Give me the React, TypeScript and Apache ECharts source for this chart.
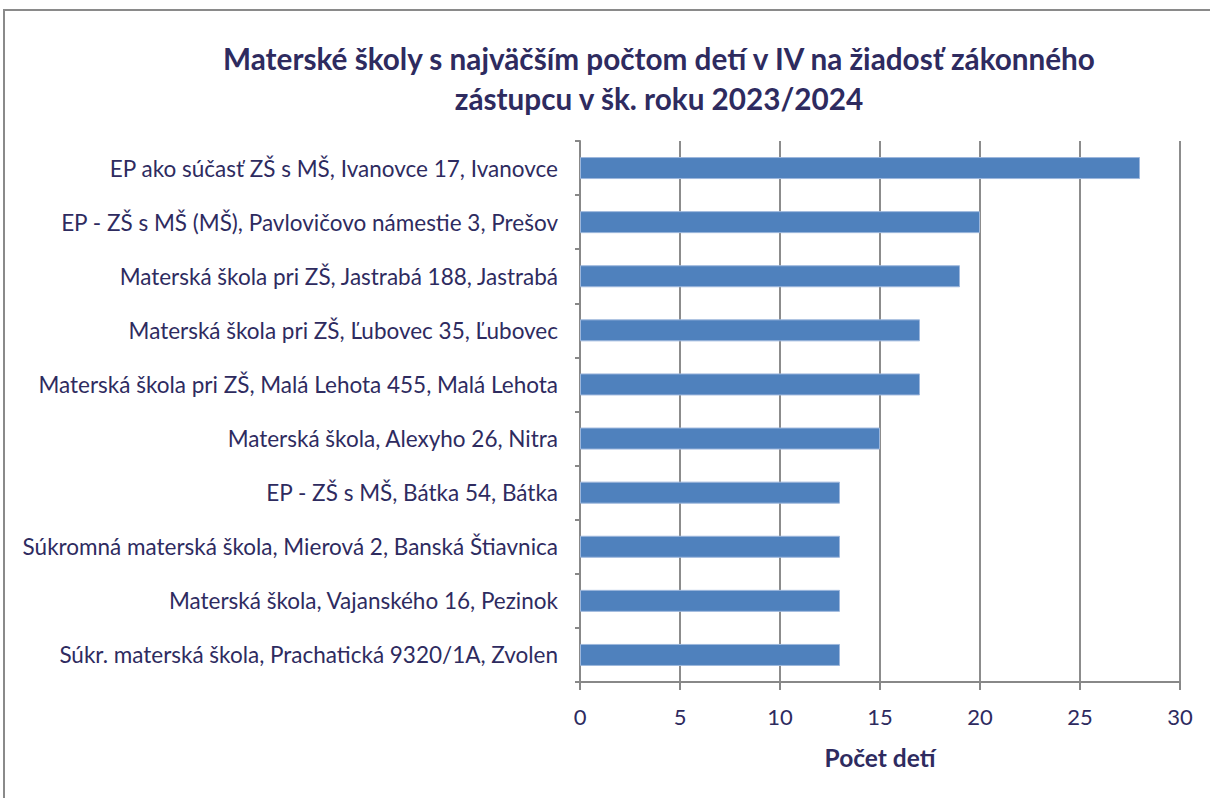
import React, { useEffect, useRef } from "react";
import * as echarts from "echarts";

const categories = [
  "EP ako súčasť ZŠ s MŠ, Ivanovce 17, Ivanovce",
  "EP - ZŠ s MŠ (MŠ), Pavlovičovo námestie 3, Prešov",
  "Materská škola pri ZŠ, Jastrabá 188, Jastrabá",
  "Materská škola pri ZŠ, Ľubovec 35, Ľubovec",
  "Materská škola pri ZŠ, Malá Lehota 455, Malá Lehota",
  "Materská škola, Alexyho 26, Nitra",
  "EP - ZŠ s MŠ, Bátka 54, Bátka",
  "Súkromná materská škola, Mierová 2, Banská Štiavnica",
  "Materská škola, Vajanského 16, Pezinok",
  "Súkr. materská škola, Prachatická 9320/1A, Zvolen",
];
const values = [28, 20, 19, 17, 17, 15, 13, 13, 13, 13];
const titleLines = [
  "Materské školy s najväčším počtom detí v IV na žiadosť zákonného",
  "zástupcu v šk. roku 2023/2024",
];
const axisName = "Počet detí";

const TEXT = "#2E2B5F";
const FONT = "Lato";

export default function App() {
  const ref = useRef<HTMLDivElement>(null);
  useEffect(() => {
    const chart = echarts.init(ref.current!, null, { renderer: "svg" });
    chart.setOption({
      animation: false,
      backgroundColor: "#fff",
      title: {
        text: titleLines.join("\n"),
        left: 654,
        top: 33,
        textAlign: "center",
        textStyle: {
          color: TEXT,
          fontFamily: FONT,
          fontWeight: "bold",
          fontSize: 29.7,
          lineHeight: 40,
        },
      },
      graphic: [
        {
          type: "rect",
          shape: { x: 4, y: 10, width: 1230, height: 810 },
          style: { fill: "none", stroke: "#8a8a8a", lineWidth: 2 },
          z: -1,
        },
      ],
      grid: { left: 580, top: 141, width: 600, height: 541 },
      xAxis: {
        type: "value",
        min: 0,
        max: 30,
        interval: 5,
        name: axisName,
        nameLocation: "middle",
        nameGap: 63,
        nameTextStyle: { color: TEXT, fontFamily: FONT, fontWeight: "bold", fontSize: 24.5 },
        axisLine: { show: true, lineStyle: { color: "#888", width: 2 } },
        axisTick: { show: true, length: 8, lineStyle: { color: "#888", width: 2 } },
        axisLabel: { color: TEXT, fontFamily: FONT, fontSize: 22, margin: 23 },
        splitLine: { show: true, lineStyle: { color: "#8c8c8c", width: 2 } },
      },
      yAxis: {
        type: "category",
        inverse: true,
        data: categories,
        axisLine: { show: true, lineStyle: { color: "#888", width: 2 } },
        axisTick: { show: true, length: 5, lineStyle: { color: "#888", width: 2 } },
        axisLabel: { color: TEXT, fontFamily: FONT, fontSize: 22.5, margin: 22 },
        splitLine: { show: false },
      },
      series: [
        {
          type: "bar",
          data: values,
          barWidth: 22,
          itemStyle: { color: "#4F81BD", borderColor: "#9DB7DC", borderWidth: 1 },
        },
      ],
    });
    return () => chart.dispose();
  }, []);
  return (
    <div
      ref={ref}
      style={{ position: "fixed", left: 0, top: 0, width: 1210, height: 798 }}
    />
  );
}
